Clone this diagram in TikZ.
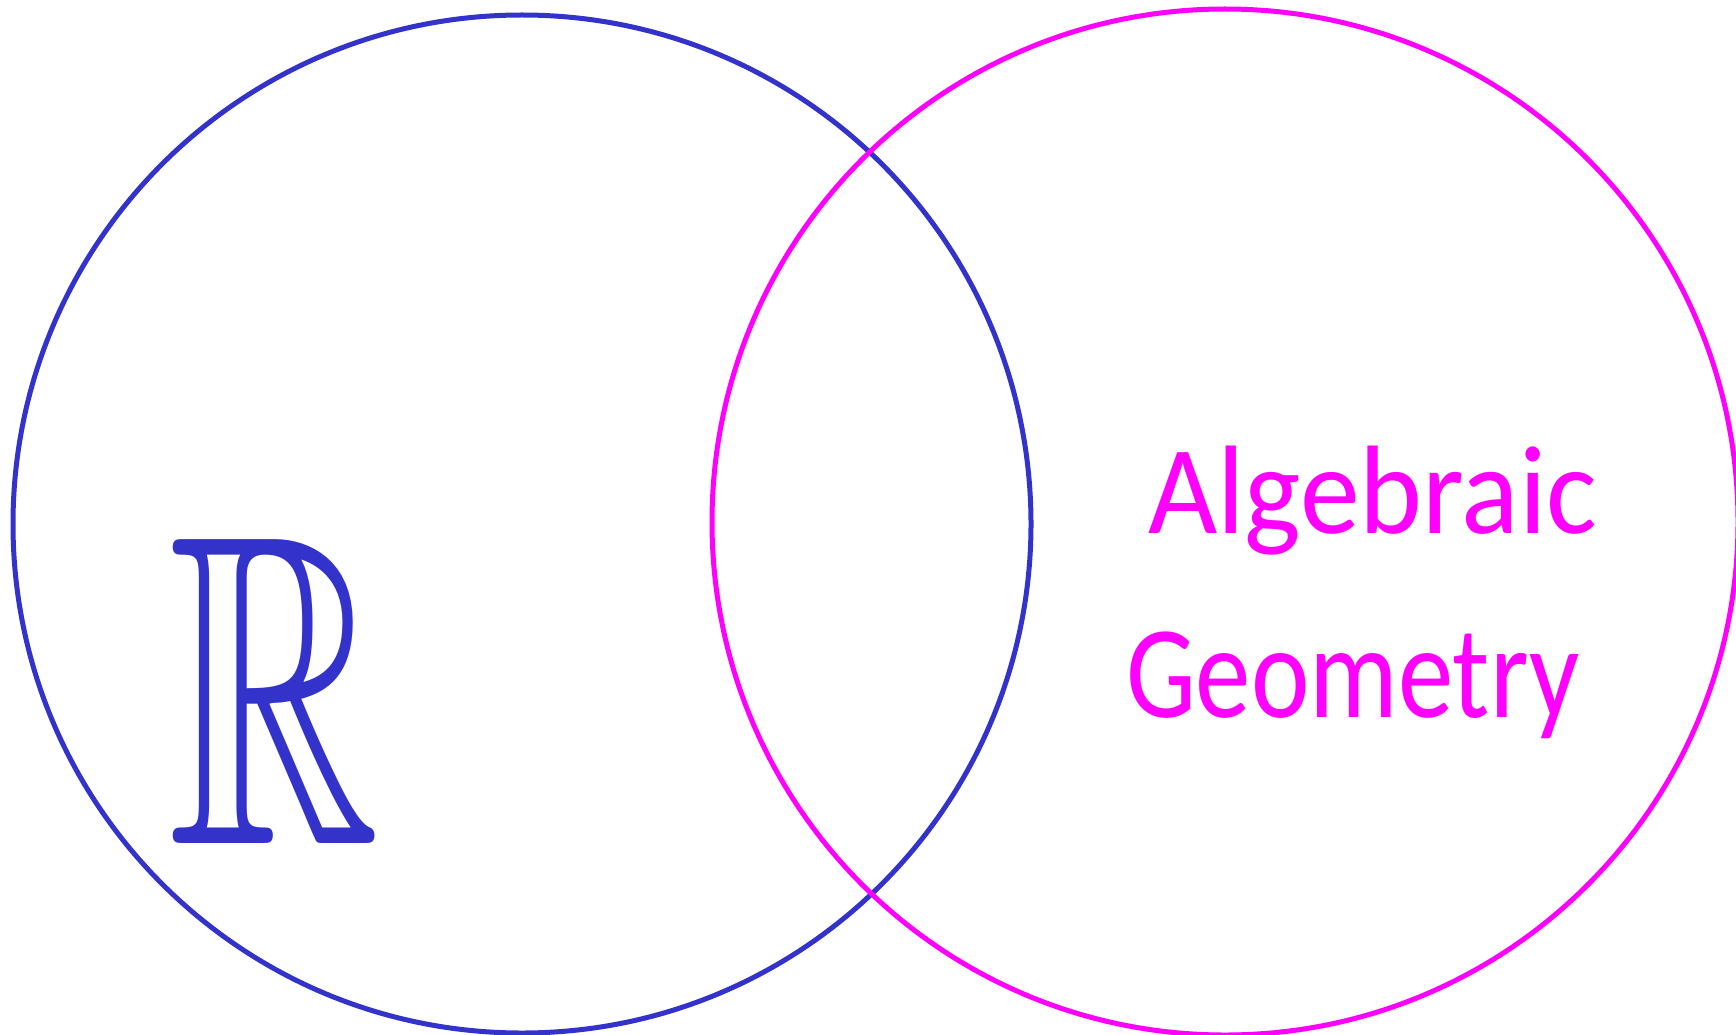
\documentclass[tikz,border=0pt]{standalone}
\usepackage{amssymb}
\usepackage{graphicx}
\usepackage{fontspec}
\newfontfamily\hand{Carlito}
\definecolor{rblue}{RGB}{51,51,204}
\definecolor{agmag}{RGB}{255,0,255}
\begin{document}
\begin{tikzpicture}[x=1pt,y=-1pt,
  ring/.style={line width=5pt},
  lbl/.style={inner sep=0pt, outer sep=0pt, anchor=base west}]
\useasboundingbox (0,0) rectangle (1736,1035);
\fill[white] (0,0) rectangle (1736,1035);
\coordinate (cl) at (522,524);
\coordinate (cr) at (1225,522);
\draw[ring, rblue] (cl) circle[radius=509];
\draw[ring, agmag] (cr) circle[radius=513];
\node[lbl, text=rblue] (reals) at (168,843) {\resizebox{212pt}{305pt}{$\mathbb{R}$}};
\node[lbl, text=agmag, xscale=0.95] (alg) at (1148,533) {\hand\fontsize{126}{126}\selectfont Algebraic};
\node[lbl, text=agmag, xscale=0.84] (geo) at (1126,717) {\hand\fontsize{132}{132}\selectfont Geometry};
\end{tikzpicture}
\end{document}
